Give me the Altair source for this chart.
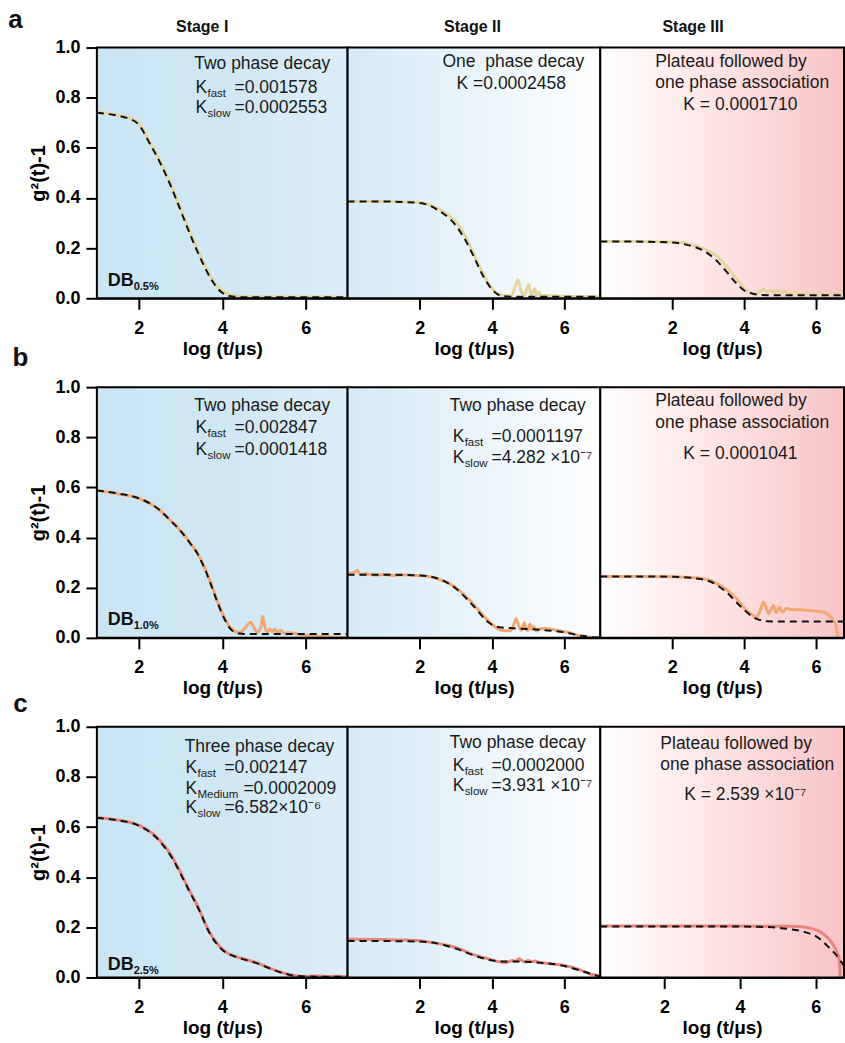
import altair as alt
import pandas as pd

FONT = "Liberation Sans"

STAGE_TITLES = ["Stage I", "Stage II", "Stage III"]
STAGE_POS = [(3.52, 1.083), (3.46, 1.083), (2.58, 1.083)]
ROW_LETTERS = ["a", "b", "c"]
DB_SUBS = ["0.5%", "1.0%", "2.5%"]
ROW_COLORS = ["#e3d69e", "#f2a874", "#e9847d"]
TICK_VALUES_X = [2, 4, 6]
TICK_VALUES_Y = [0.0, 0.2, 0.4, 0.6, 0.8, 1.0]

X_DOMAINS = [
    [[1, 7], [0, 7], [0, 6.78]],
    [[1, 7], [0, 7], [0, 6.78]],
    [[1, 7], [0, 7], [0.3, 6.75]],
]
PANEL_WIDTHS = [251, 253, 244]
PANEL_HEIGHT = 251

BG_STOPS = [
    [("#cbe5f4", 0.0), ("#d0e8f5", 0.55), ("#dceef8", 1.0)],
    [("#d5ebf6", 0.0), ("#e9f4fa", 0.5), ("#ffffff", 1.0)],
    [("#ffffff", 0.0), ("#fde3e3", 0.5), ("#f8c4c6", 1.0)],
]

# ---------------- row a ----------------
A1_X = [1.0, 1.5, 1.75, 2.0, 2.25, 2.5, 2.75, 3.0, 3.25, 3.5, 3.75, 4.0, 4.25, 4.5, 5.0, 5.5, 6.0, 6.5, 7.0]
A1_Y = [0.742, 0.73, 0.72, 0.698, 0.628, 0.552, 0.462, 0.36, 0.255, 0.16, 0.08, 0.03, 0.012, 0.007, 0.006, 0.005, 0.005, 0.005, 0.004]
A1_FX = [1.0, 1.5, 1.75, 2.0, 2.25, 2.5, 2.75, 3.0, 3.25, 3.5, 3.75, 4.0, 4.25, 4.5, 5.0, 6.0, 7.0]
A1_FY = [0.74, 0.728, 0.717, 0.693, 0.622, 0.545, 0.455, 0.352, 0.247, 0.152, 0.072, 0.022, 0.007, 0.004, 0.004, 0.004, 0.004]

A2_X = [0, 0.5, 1.0, 1.5, 2.0, 2.5, 2.75, 3.0, 3.25, 3.5, 3.75, 4.0, 4.2, 4.4, 4.55, 4.65, 4.72, 4.8, 4.9, 4.97, 5.02, 5.08, 5.13, 5.18, 5.24, 5.3, 5.36, 5.5, 6.0, 6.5, 7.0]
A2_Y = [0.386, 0.386, 0.386, 0.385, 0.382, 0.358, 0.336, 0.305, 0.25, 0.175, 0.10, 0.04, 0.015, 0.01, 0.012, 0.05, 0.074, 0.03, 0.012, 0.04, 0.055, 0.015, 0.02, 0.038, 0.012, 0.025, 0.01, 0.01, 0.008, 0.006, 0.006]
A2_FX = [0, 1, 2, 2.5, 3, 3.25, 3.5, 3.75, 4, 4.25, 4.5, 5, 6, 7]
A2_FY = [0.386, 0.386, 0.38, 0.352, 0.29, 0.235, 0.165, 0.09, 0.035, 0.01, 0.006, 0.006, 0.006, 0.006]

A3_X = [0, 1, 2, 2.25, 2.5, 2.75, 3.0, 3.25, 3.5, 3.75, 4.0, 4.25, 4.4, 4.55, 4.65, 4.75, 4.85, 4.95, 5.05, 5.15, 5.25, 5.4, 5.6, 6.0, 6.5, 6.78]
A3_Y = [0.226, 0.226, 0.224, 0.222, 0.215, 0.205, 0.19, 0.168, 0.13, 0.085, 0.04, 0.017, 0.022, 0.036, 0.026, 0.032, 0.024, 0.03, 0.022, 0.028, 0.02, 0.022, 0.018, 0.017, 0.016, 0.015]
A3_FX = [0, 1, 2, 2.5, 2.75, 3, 3.25, 3.5, 3.75, 4, 4.25, 4.5, 5, 6, 6.78]
A3_FY = [0.226, 0.226, 0.222, 0.21, 0.198, 0.178, 0.148, 0.108, 0.065, 0.032, 0.018, 0.013, 0.012, 0.012, 0.012]

# ---------------- row b ----------------
B1_X = [1.0, 1.5, 2.0, 2.5, 2.75, 3.0, 3.25, 3.4, 3.5, 3.6, 3.75, 3.9, 4.0, 4.1, 4.2, 4.3, 4.4, 4.5, 4.6, 4.68, 4.76, 4.84, 4.92, 4.97, 5.02, 5.08, 5.14, 5.2, 5.26, 5.32, 5.4, 5.48, 5.56, 6.0, 6.5, 7.0]
B1_Y = [0.588, 0.575, 0.556, 0.51, 0.47, 0.428, 0.375, 0.34, 0.308, 0.272, 0.208, 0.14, 0.10, 0.066, 0.04, 0.027, 0.022, 0.03, 0.05, 0.062, 0.04, 0.022, 0.04, 0.085, 0.045, 0.022, 0.035, 0.025, 0.035, 0.02, 0.03, 0.018, 0.02, 0.01, 0.004, 0.0]
B1_FX = [1, 1.5, 2, 2.5, 2.75, 3, 3.25, 3.4, 3.5, 3.6, 3.75, 3.9, 4, 4.1, 4.2, 4.3, 4.4, 4.6, 5, 6, 7]
B1_FY = [0.588, 0.576, 0.557, 0.51, 0.47, 0.427, 0.373, 0.338, 0.305, 0.268, 0.203, 0.135, 0.095, 0.06, 0.035, 0.022, 0.017, 0.015, 0.015, 0.015, 0.015]

B2_X = [0, 0.1, 0.2, 0.27, 0.35, 0.5, 0.8, 1.0, 1.3, 1.5, 1.8, 2.0, 2.5, 3.0, 3.5, 3.8, 4.07, 4.3, 4.5, 4.6, 4.67, 4.75, 4.81, 4.9, 4.95, 5.0, 5.05, 5.1, 5.16, 5.23, 5.3, 5.46, 5.83, 6.19, 6.56, 6.8, 7.0]
B2_Y = [0.255, 0.258, 0.262, 0.27, 0.252, 0.256, 0.25, 0.253, 0.249, 0.252, 0.249, 0.249, 0.235, 0.2, 0.132, 0.082, 0.045, 0.029, 0.028, 0.05, 0.076, 0.045, 0.03, 0.06, 0.032, 0.03, 0.055, 0.035, 0.045, 0.027, 0.035, 0.037, 0.029, 0.019, 0.003, 0.001, 0.0]
B2_FX = [0, 1, 2, 2.5, 3, 3.5, 3.9, 4.2, 4.5, 5, 5.5, 6, 6.5, 6.9, 7]
B2_FY = [0.252, 0.252, 0.249, 0.237, 0.197, 0.125, 0.062, 0.042, 0.039, 0.035, 0.03, 0.022, 0.008, 0.001, 0.0]

B3_X = [0, 0.3, 1, 2, 2.61, 3.07, 3.3, 3.54, 3.75, 3.91, 4.05, 4.18, 4.35, 4.45, 4.54, 4.62, 4.68, 4.75, 4.82, 4.87, 4.91, 4.96, 5.0, 5.05, 5.1, 5.17, 5.24, 5.4, 5.6, 5.85, 6.05, 6.22, 6.35, 6.45, 6.52, 6.57, 6.59, 6.62]
B3_Y = [0.245, 0.245, 0.245, 0.244, 0.24, 0.229, 0.212, 0.189, 0.162, 0.136, 0.112, 0.096, 0.083, 0.11, 0.142, 0.118, 0.096, 0.115, 0.129, 0.108, 0.10, 0.118, 0.122, 0.104, 0.105, 0.118, 0.115, 0.112, 0.112, 0.109, 0.106, 0.102, 0.092, 0.076, 0.06, 0.043, 0.02, 0.0]
B3_FX = [0, 1, 2, 2.6, 3.07, 3.3, 3.54, 3.8, 4.0, 4.2, 4.35, 4.5, 4.63, 5, 6, 6.78]
B3_FY = [0.245, 0.245, 0.244, 0.238, 0.224, 0.205, 0.178, 0.14, 0.112, 0.088, 0.076, 0.069, 0.066, 0.065, 0.065, 0.065]

# ---------------- row c ----------------
C1_X = [1.0, 1.5, 2.0, 2.2, 2.4, 2.6, 2.75, 2.9, 3.05, 3.2, 3.37, 3.5, 3.6, 3.72, 3.85, 3.97, 4.1, 4.25, 4.4, 4.6, 4.8, 5.0, 5.2, 5.4, 5.6, 5.8, 6.0, 6.3, 6.5, 6.7, 7.0]
C1_Y = [0.637, 0.628, 0.608, 0.59, 0.565, 0.528, 0.495, 0.452, 0.403, 0.352, 0.298, 0.252, 0.213, 0.174, 0.142, 0.118, 0.1, 0.088, 0.079, 0.07, 0.06, 0.047, 0.033, 0.021, 0.012, 0.006, 0.004, 0.006, 0.003, 0.005, 0.003]
C1_FX = [1.0, 1.5, 2.0, 2.2, 2.4, 2.6, 2.75, 2.9, 3.05, 3.2, 3.37, 3.5, 3.6, 3.72, 3.85, 3.97, 4.1, 4.25, 4.4, 4.6, 4.8, 5.0, 5.2, 5.4, 5.6, 5.8, 6.0, 6.5, 7.0]
C1_FY = [0.637, 0.627, 0.606, 0.587, 0.561, 0.524, 0.49, 0.447, 0.398, 0.348, 0.294, 0.25, 0.21, 0.17, 0.138, 0.115, 0.098, 0.087, 0.078, 0.068, 0.058, 0.045, 0.032, 0.02, 0.011, 0.006, 0.004, 0.003, 0.003]

C2_X = [0, 0.15, 1.0, 1.63, 2.0, 2.36, 2.7, 3.01, 3.25, 3.47, 3.7, 3.93, 4.1, 4.3, 4.45, 4.57, 4.66, 4.75, 4.84, 4.93, 5.0, 5.1, 5.2, 5.3, 5.5, 5.8, 6.06, 6.3, 6.52, 6.7, 6.89, 7.0]
C2_Y = [0.152, 0.152, 0.151, 0.149, 0.146, 0.139, 0.13, 0.119, 0.105, 0.092, 0.082, 0.073, 0.066, 0.06, 0.062, 0.068, 0.064, 0.075, 0.066, 0.062, 0.068, 0.063, 0.066, 0.06, 0.057, 0.052, 0.046, 0.037, 0.025, 0.015, 0.009, 0.005]
C2_FX = [0, 1, 2, 2.36, 3.0, 3.5, 3.93, 4.3, 4.7, 5.0, 5.5, 6.0, 6.5, 7.0]
C2_FY = [0.145, 0.145, 0.143, 0.139, 0.115, 0.088, 0.07, 0.064, 0.064, 0.062, 0.057, 0.046, 0.025, 0.003]

C3_X = [0.3, 1, 2, 3, 4, 5.0, 5.3, 5.55, 5.74, 5.92, 6.09, 6.22, 6.36, 6.45, 6.53, 6.58, 6.62, 6.64, 6.65]
C3_Y = [0.205, 0.205, 0.205, 0.205, 0.205, 0.204, 0.204, 0.203, 0.2, 0.194, 0.185, 0.172, 0.152, 0.134, 0.112, 0.095, 0.073, 0.04, 0.0]
C3_FX = [0.3, 1, 2, 3, 4, 4.5, 4.86, 5.3, 5.74, 6.0, 6.18, 6.35, 6.53, 6.65, 6.75]
C3_FY = [0.203, 0.203, 0.203, 0.203, 0.203, 0.202, 0.2, 0.193, 0.18, 0.165, 0.145, 0.12, 0.092, 0.068, 0.045]

SERIES = [
    [(A1_X, A1_Y, A1_FX, A1_FY), (A2_X, A2_Y, A2_FX, A2_FY), (A3_X, A3_Y, A3_FX, A3_FY)],
    [(B1_X, B1_Y, B1_FX, B1_FY), (B2_X, B2_Y, B2_FX, B2_FY), (B3_X, B3_Y, B3_FX, B3_FY)],
    [(C1_X, C1_Y, C1_FX, C1_FY), (C2_X, C2_Y, C2_FX, C2_FY), (C3_X, C3_Y, C3_FX, C3_FY)],
]

# Annotation texts: (x, y, segments); segment = (text, dx px, dy px, font size)
BIG = 17.5
SUB = 11.5


def kline(sub, value, dxv=39):
    return [("K", 0, 0, BIG), (sub, 12, 6, SUB), (value, dxv, 0, BIG)]


ANNOTATIONS = [
    [
        [(3.33, 0.933, [("Two phase decay", 0, 0, BIG)]),
         (3.36, 0.837, kline("fast", "=0.001578")),
         (3.36, 0.758, kline("slow", "=0.0002553"))],
        [(2.63, 0.944, [("One\u00a0\u00a0phase decay", 0, 0, BIG)]),
         (3.02, 0.853, [("K =0.0002458", 0, 0, BIG)])],
        [(1.53, 0.944, [("Plateau followed by", 0, 0, BIG)]),
         (1.53, 0.857, [("one phase association", 0, 0, BIG)]),
         (2.31, 0.770, [("K = 0.0001710", 0, 0, BIG)])],
    ],
    [
        [(3.33, 0.926, [("Two phase decay", 0, 0, BIG)]),
         (3.36, 0.838, kline("fast", "=0.002847")),
         (3.36, 0.750, kline("slow", "=0.0001418"))],
        [(2.83, 0.926, [("Two phase decay", 0, 0, BIG)]),
         (2.91, 0.802, kline("fast", "=0.0001197")),
         (2.91, 0.718, kline("slow", "=4.282 ×10⁻⁷"))],
        [(1.53, 0.946, [("Plateau followed by", 0, 0, BIG)]),
         (1.53, 0.859, [("one phase association", 0, 0, BIG)]),
         (2.31, 0.735, [("K = 0.0001041", 0, 0, BIG)])],
    ],
    [
        [(3.10, 0.921, [("Three phase decay", 0, 0, BIG)]),
         (3.12, 0.836, kline("fast", "=0.002147")),
         (3.12, 0.752, kline("Medium", "=0.0002009", 58)),
         (3.12, 0.676, kline("slow", "=6.582×10⁻⁶"))],
        [(2.83, 0.937, [("Two phase decay", 0, 0, BIG)]),
         (2.91, 0.845, kline("fast", "=0.0002000")),
         (2.91, 0.762, kline("slow", "=3.931 ×10⁻⁷"))],
        [(1.89, 0.933, [("Plateau followed by", 0, 0, BIG)]),
         (1.89, 0.849, [("one phase association", 0, 0, BIG)]),
         (2.52, 0.726, [("K = 2.539 ×10⁻⁷", 0, 0, BIG)])],
    ],
]

DB_POS = [(1.26, 0.07), (1.26, 0.07), (1.26, 0.05)]
LETTER_POS = [(-0.95, 1.11), (-0.83, 1.118), (-0.83, 1.09)]


def make_panel(r, c):
    d0, d1 = X_DOMAINS[r][c]
    w = PANEL_WIDTHS[c]
    h = PANEL_HEIGHT
    ppx = w / (d1 - d0)
    ppy = h / 1.0
    xs = alt.Scale(domain=[d0, d1], nice=False, zero=False)
    ys = alt.Scale(domain=[0, 1], nice=False, zero=False)
    xaxis = alt.Axis(values=TICK_VALUES_X, format="d", title="log (t/μs)")
    if c == 0:
        yaxis = alt.Axis(values=TICK_VALUES_Y, format=".1f", title="g²(t)-1")
    else:
        yaxis = None

    def X(f):
        return alt.X(f, type="quantitative", scale=xs, axis=xaxis)

    def Y(f):
        return alt.Y(f, type="quantitative", scale=ys, axis=yaxis)

    bg_df = pd.DataFrame({"x0": [d0], "x1": [d1], "y0": [0.0], "y1": [1.0]})
    grad = alt.LinearGradient(
        gradient="linear",
        stops=[alt.GradientStop(color=col, offset=off) for col, off in BG_STOPS[c]],
        x1=0, x2=1, y1=0, y2=0,
    )
    bg = alt.Chart(bg_df).mark_rect(color=grad).encode(
        x=X("x0"), x2="x1", y=Y("y0"), y2="y1")
    outline = alt.Chart(bg_df).mark_rect(filled=False, stroke="black", strokeWidth=2).encode(
        x=X("x0"), x2="x1", y=Y("y0"), y2="y1")

    dx, dy, fx, fy = SERIES[r][c]
    data_line = alt.Chart(pd.DataFrame({"x": dx, "y": dy})).mark_line(
        color=ROW_COLORS[r], strokeWidth=3, interpolate="monotone", clip=True
    ).encode(x=X("x"), y=Y("y"))
    fit_line = alt.Chart(pd.DataFrame({"x": fx, "y": fy})).mark_line(
        color="#111111", strokeWidth=2, strokeDash=[7, 5], interpolate="monotone", clip=True
    ).encode(x=X("x"), y=Y("y"))

    rows = []
    for (x0, y0, segs) in ANNOTATIONS[r][c]:
        for (t, ddx, ddy, sz) in segs:
            rows.append({"x": x0 + ddx / ppx, "y": y0 - ddy / ppy, "text": t, "size": sz})
    ann = alt.Chart(pd.DataFrame(rows)).mark_text(
        align="left", baseline="middle", font=FONT, color="#1a1a1a"
    ).encode(x=X("x"), y=Y("y"), text="text:N", size=alt.Size("size:Q", scale=None))

    layers = [bg, data_line, fit_line, outline, ann]

    if c == 0:
        bx, by = DB_POS[r]
        db_rows = [{"x": bx, "y": by, "text": "DB", "size": 18},
                   {"x": bx + 26 / ppx, "y": by - 6 / ppy, "text": DB_SUBS[r], "size": 11}]
        db = alt.Chart(pd.DataFrame(db_rows)).mark_text(
            align="left", baseline="middle", font=FONT, fontWeight="bold", color="#111111"
        ).encode(x=X("x"), y=Y("y"), text="text:N", size=alt.Size("size:Q", scale=None))
        lx, ly = LETTER_POS[r]
        letter = alt.Chart(pd.DataFrame({"x": [lx], "y": [ly], "text": [ROW_LETTERS[r]]})).mark_text(
            align="center", baseline="middle", font=FONT, fontWeight="bold", fontSize=26, color="#111111"
        ).encode(x=X("x"), y=Y("y"), text="text:N")
        layers += [db, letter]

    if r == 0:
        sx, sy = STAGE_POS[c]
        stage = alt.Chart(pd.DataFrame({"x": [sx], "y": [sy], "text": [STAGE_TITLES[c]]})).mark_text(
            align="center", baseline="middle", font=FONT, fontWeight="bold", fontSize=16, color="#111111"
        ).encode(x=X("x"), y=Y("y"), text="text:N")
        layers.append(stage)

    return alt.layer(*layers).properties(width=w, height=h)


panels = [make_panel(r, c) for r in range(3) for c in range(3)]

chart = alt.concat(
    *panels, columns=3, spacing={"row": 89, "column": 0}, bounds="flush", align="each"
).properties(
    padding={"left": 8, "top": 6, "right": 0, "bottom": 4}
).configure_view(stroke=None).configure_axis(
    domainColor="black", domainWidth=2, tickColor="black", tickWidth=2, tickSize=11,
    labelFont=FONT, labelFontSize=18, labelFontWeight="bold", labelColor="black",
    titleFont=FONT, titleFontWeight="bold", titleColor="black", grid=False,
).configure_axisX(labelPadding=10, titlePadding=2, titleFontSize=19
).configure_axisY(labelPadding=6, titlePadding=6, titleFontSize=20)

chart.save("out.html", embed_options={"renderer": "svg", "actions": False})
